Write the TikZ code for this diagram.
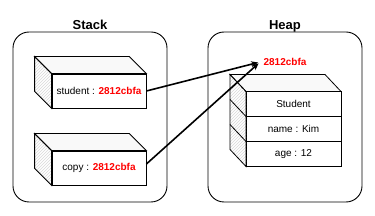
\documentclass[tikz,border=0pt]{standalone}
\usepackage{fontspec}
\setmainfont{Liberation Sans}
\usetikzlibrary{positioning,patterns,arrows.meta}

\begin{document}
\begin{tikzpicture}[
    x=1pt, y=-1pt,
    region/.style={rectangle, draw, line width=0.9pt, rounded corners=16pt, minimum width=154pt, minimum height=170pt},
    title/.style={font=\bfseries\fontsize{13}{15}\selectfont, inner sep=2pt, text depth=0pt},
    front/.style={rectangle, draw, fill=white, line width=0.8pt, minimum width=94pt, minimum height=34pt, font=\fontsize{10}{12}\selectfont},
    row/.style={rectangle, draw, fill=white, line width=0.8pt, outer sep=0pt, minimum width=95pt, minimum height=25pt, font=\fontsize{10}{12}\selectfont},
    side/.style={draw, line width=0.8pt, pattern=north east lines, pattern color=gray!30},
    lid/.style={draw, line width=0.8pt, fill=gray!5},
    addr/.style={text=red, font=\bfseries\fontsize{10}{12}\selectfont},
    line/.style={draw, line width=1.6pt, shorten >=2pt, -{Stealth[length=7pt,width=6pt]}}
]
\useasboundingbox[fill=white] (0,0) rectangle (375,216);

% Containers
\node[region] (stack) at (90,117) {};
\node[title, above=0pt of stack] (stacklbl) {Stack};
\node[region] (heap) at (285,117) {};
\node[title, above=0pt of heap] (heaplbl) {Heap};

% Stack: first variable
\node[front] (stud) at (99,91) {student : \textcolor{red}{\bfseries 2812cbfa}};
\draw[lid] (stud.north west) -- ++(-17,-17) -- ([shift={(-17,-17)}]stud.north east) -- (stud.north east) -- cycle;
\draw[side] (stud.north west) -- ++(-17,-17) -- ([shift={(-17,-17)}]stud.south west) -- (stud.south west) -- cycle;

% Stack: second variable
\node[front] (copy) at (99,168) {copy : \textcolor{red}{\bfseries 2812cbfa}};
\draw[lid] (copy.north west) -- ++(-17,-17) -- ([shift={(-17,-17)}]copy.north east) -- (copy.north east) -- cycle;
\draw[side] (copy.north west) -- ++(-17,-17) -- ([shift={(-17,-17)}]copy.south west) -- (copy.south west) -- cycle;

% Heap object
\node[row] (cls) at (293.5,104) {Student};
\node[row, below=0pt of cls] (name) {name : Kim};
\node[row, below=0pt of name] (age) {age : 12};
\draw[lid] (cls.north west) -- ++(-16,-17) -- ([shift={(-16,-17)}]cls.north east) -- (cls.north east) -- cycle;
\draw[side] (cls.north west) -- ++(-16,-17) -- ([shift={(-16,-17)}]age.south west) -- (age.south west) -- cycle;
\draw[line width=0.8pt] (cls.south west) -- ++(-16,-17);
\draw[line width=0.8pt] (name.south west) -- ++(-16,-17);

% Address and references
\node[addr] (ref) at (285,62) {2812cbfa};
\draw[line] (stud.east) -- (ref.west);
\draw[line] ([yshift=4pt]copy.east) -- (ref.west);

\end{tikzpicture}
\end{document}
